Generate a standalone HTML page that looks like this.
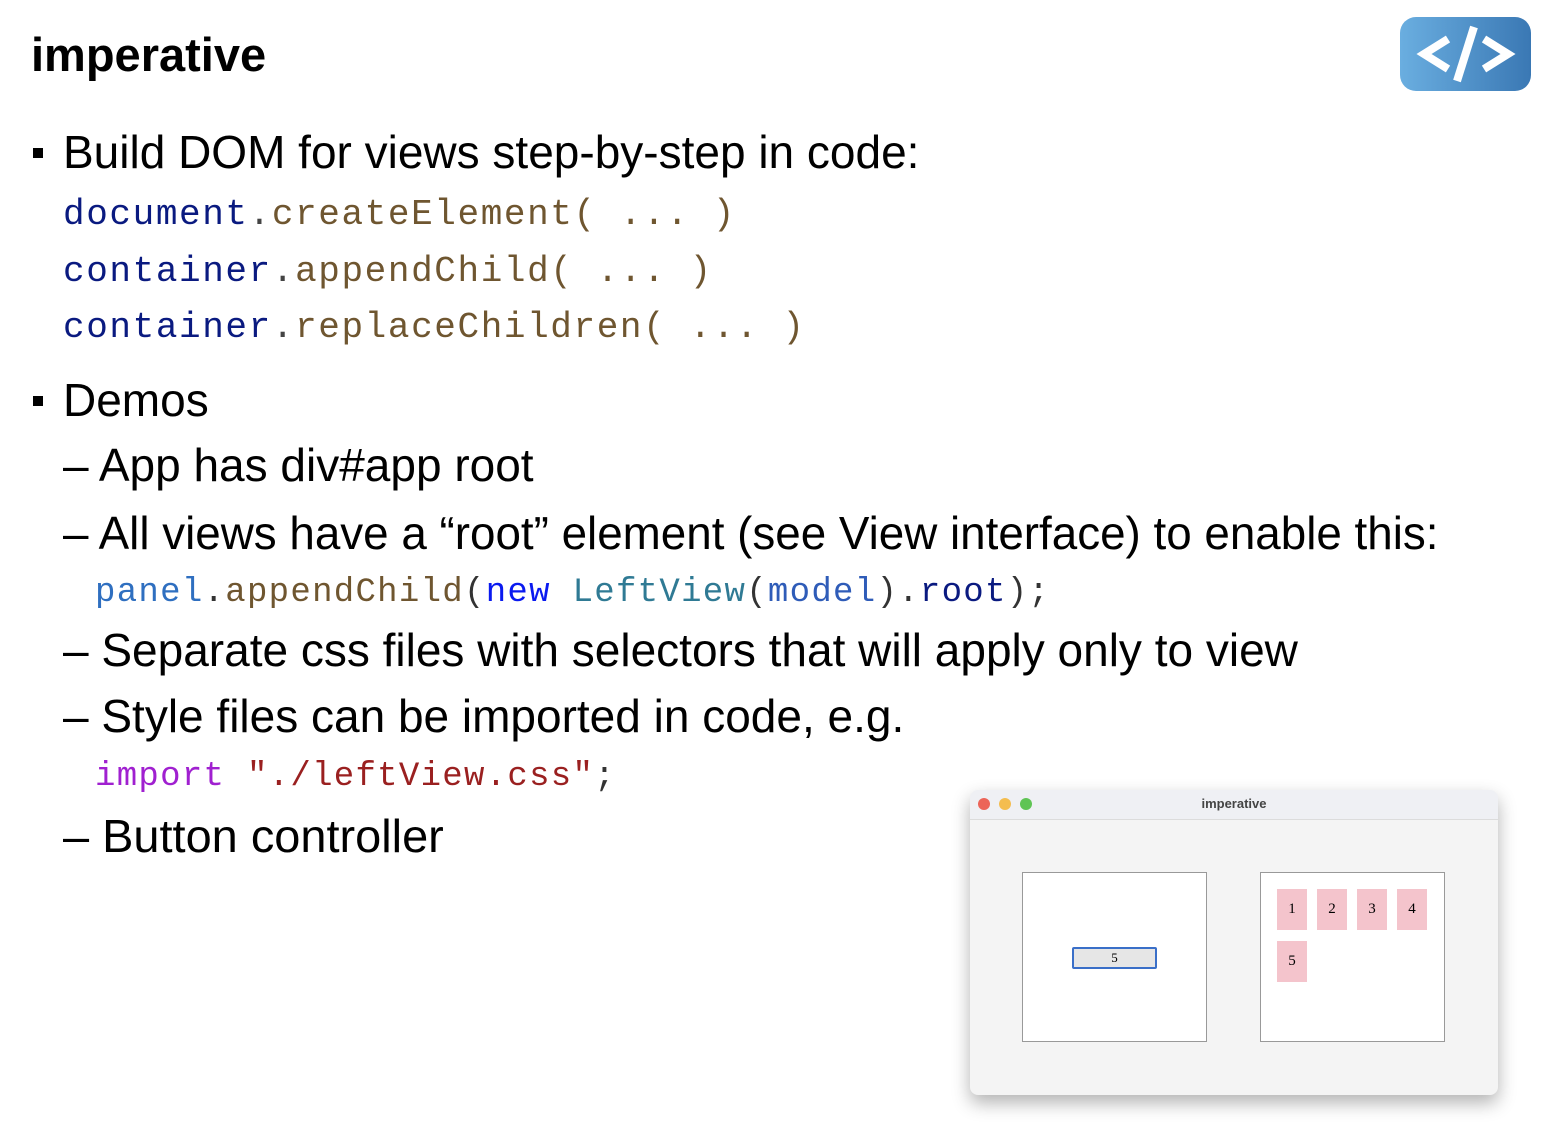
<!DOCTYPE html>
<html><head><meta charset="utf-8"><style>
body{margin:0;width:1548px;height:1128px;background:#fff;position:relative;overflow:hidden;font-family:"Liberation Sans",sans-serif;}
.t{position:absolute;white-space:nowrap;line-height:1;transform-origin:0 0;}
.s{font-size:46px;color:#000;}
.c{font-family:"Liberation Mono",monospace;font-size:36px;letter-spacing:1.6px;}
.c2{font-family:"Liberation Mono",monospace;font-size:34px;letter-spacing:1.3px;}
.n{color:#0a1a80}.b{color:#6f5630}
.bul{position:absolute;width:10px;height:10px;background:#000;}
.sq{position:absolute;width:30px;height:41px;background:#f4c4cc;font-family:"Liberation Serif",serif;font-size:15px;text-align:center;line-height:41px;}
</style></head><body>
<div class="t" style="left:31px;top:31px;font-size:47px;font-weight:bold;">imperative</div>
<div style="position:absolute;left:1400px;top:17px;width:131px;height:74px;border-radius:16px;background:linear-gradient(90deg,#6aaee0,#3a78b4);"></div>
<svg style="position:absolute;left:1400px;top:17px" width="131" height="74"><g stroke="#fff" stroke-width="8" fill="none" stroke-linecap="butt"><polyline points="48,22 24,37 48,52"/><polyline points="84,22 108,37 84,52"/><line x1="74" y1="10" x2="57" y2="64"/></g></svg>

<div class="bul" style="left:33px;top:148px"></div>
<div class="t s" style="left:63px;top:129px">Build DOM for views step-by-step in code:</div>
<div class="t c" style="left:63px;top:197px"><span class="n">document</span><span style="color:#444">.</span><span class="b">createElement( ... )</span></div>
<div class="t c" style="left:63px;top:254px"><span class="n">container</span><span style="color:#444">.</span><span class="b">appendChild( ... )</span></div>
<div class="t c" style="left:63px;top:310px"><span class="n">container</span><span style="color:#444">.</span><span class="b">replaceChildren( ... )</span></div>

<div class="bul" style="left:33px;top:396px"></div>
<div class="t s" style="left:63px;top:377px">Demos</div>
<div class="t s" style="left:63px;top:442px">– App has div#app root</div>
<div class="t s" style="left:63px;top:510px;transform:scaleX(0.995)">– All views have a “root” element (see View interface) to enable this:</div>
<div class="t c2" style="left:95px;top:576px"><span style="color:#2f6fc0">panel</span><span style="color:#333">.</span><span class="b">appendChild</span><span style="color:#333">(</span><span style="color:#0a1af0">new</span> <span style="color:#2f7a94">LeftView</span><span style="color:#333">(</span><span style="color:#2f5cb8">model</span><span style="color:#333">).</span><span class="n">root</span><span style="color:#333">);</span></div>
<div class="t s" style="left:63px;top:627px">– Separate css files with selectors that will apply only to view</div>
<div class="t s" style="left:63px;top:693px">– Style files can be imported in code, e.g.</div>
<div class="t c2" style="left:95px;top:760px"><span style="color:#a020d0">import</span> <span style="color:#9a2020">"./leftView.css"</span><span style="color:#333">;</span></div>
<div class="t s" style="left:63px;top:813px;transform:scaleX(1.02)">– Button controller</div>

<div style="position:absolute;left:970px;top:790px;width:528px;height:305px;background:#f4f4f4;border-radius:8px;box-shadow:0 8px 18px rgba(0,0,0,0.3);overflow:hidden;">
 <div style="height:29px;background:#eff0f4;border-bottom:1px solid #dcdcdc;position:relative;">
  <div style="position:absolute;left:8px;top:8px;width:12px;height:12px;border-radius:50%;background:#ec6559"></div>
  <div style="position:absolute;left:29px;top:8px;width:12px;height:12px;border-radius:50%;background:#f4bd4f"></div>
  <div style="position:absolute;left:50px;top:8px;width:12px;height:12px;border-radius:50%;background:#5fc454"></div>
  <div style="position:absolute;left:0;right:0;top:6px;text-align:center;font-size:13px;font-weight:bold;color:#444;">imperative</div>
 </div>
 <div style="position:absolute;left:52px;top:82px;width:183px;height:168px;background:#fff;border:1px solid #999;"></div>
 <div style="position:absolute;left:102px;top:157px;width:81px;height:18px;background:#e6e6e6;border:2px solid #3a6fc8;border-radius:2px;font-family:'Liberation Serif',serif;font-size:13px;text-align:center;line-height:18px;">5</div>
 <div style="position:absolute;left:290px;top:82px;width:183px;height:168px;background:#fff;border:1px solid #999;"></div>
 <div class="sq" style="left:307px;top:99px">1</div>
 <div class="sq" style="left:347px;top:99px">2</div>
 <div class="sq" style="left:387px;top:99px">3</div>
 <div class="sq" style="left:427px;top:99px">4</div>
 <div class="sq" style="left:307px;top:151px">5</div>
</div>
</body></html>
